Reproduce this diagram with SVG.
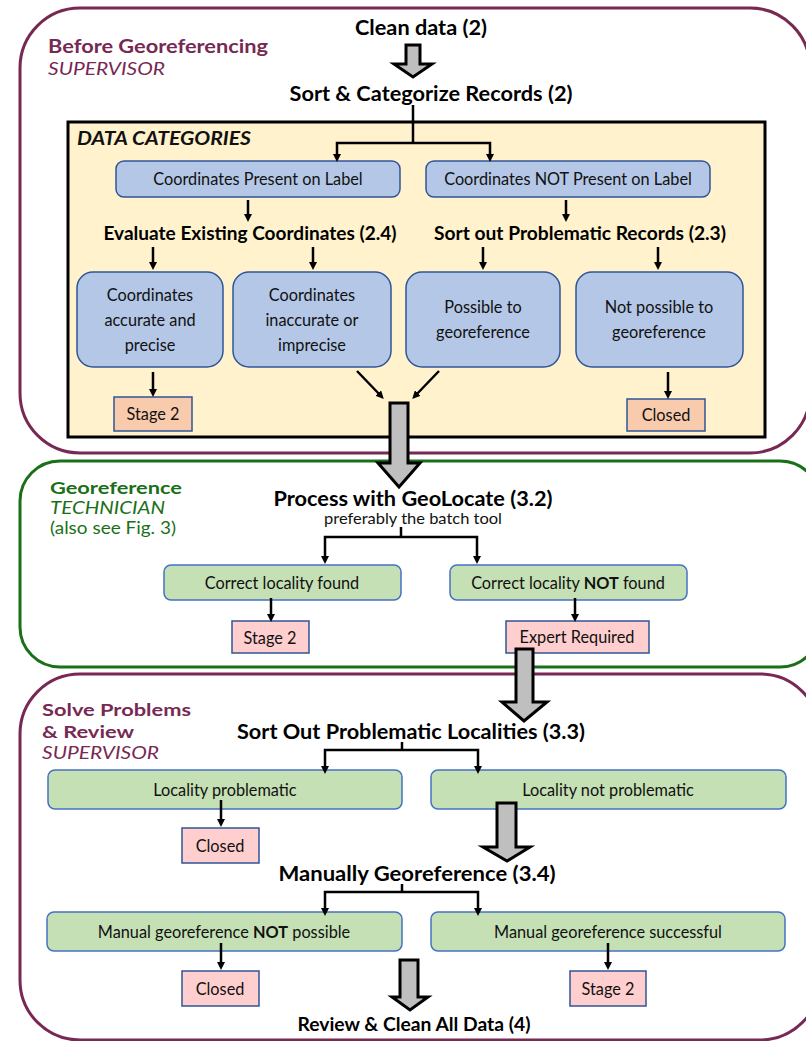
<svg xmlns="http://www.w3.org/2000/svg" width="806" height="1041" viewBox="0 0 806 1041">
<defs>
<marker id="ah" markerWidth="8" markerHeight="8" refX="4" refY="4" orient="auto" markerUnits="userSpaceOnUse" viewBox="0 0 8 8">
<path d="M0,0 L8,4 L0,8 Z" fill="#000"/>
</marker>
<style>
.panelM{fill:#fff;stroke:#772953;stroke-width:3}
.panelG{fill:#fff;stroke:#1a7018;stroke-width:3}
.t{font-family:Lato,"Open Sans",sans-serif;fill:#111}
.h{font-family:Lato,"Open Sans",sans-serif;font-weight:bold;fill:#000;text-anchor:middle}
.ml{font-family:Lato,"Open Sans",sans-serif;fill:#772953}
.gl{font-family:Lato,"Open Sans",sans-serif;fill:#1a7018}
.blue{fill:#b4c7e7;stroke:#2f5597;stroke-width:1.5}
.green{fill:#c5e0b4;stroke:#4472c4;stroke-width:1.5}
.peach{fill:#f8cbad;stroke:#2f5597;stroke-width:1.5}
.pink{fill:#ffcfcf;stroke:#2f5597;stroke-width:1.5}
.c{font-family:Lato,"Open Sans",sans-serif;font-size:16.3px;fill:#111;text-anchor:middle}
.ln{fill:none;stroke:#000;stroke-width:2.5}
.la{fill:none;stroke:#000;stroke-width:2.5;marker-end:url(#ah)}
.blk{fill:#bfbfbf;stroke:#000;stroke-width:3;stroke-linejoin:miter}
</style>
</defs>

<!-- panels -->
<g id="panel-before">
<rect class="panelM" x="20" y="8" width="790" height="445" rx="60"/>
<text class="ml" x="48" y="53" font-size="18" font-weight="bold" textLength="220" lengthAdjust="spacingAndGlyphs">Before Georeferencing</text>
<text class="ml" x="48" y="75" font-size="18" font-style="italic" textLength="117" lengthAdjust="spacingAndGlyphs">SUPERVISOR</text>
</g>
<g id="panel-georef">
<rect class="panelG" x="20" y="461" width="800" height="206" rx="40"/>
<text class="gl" x="50" y="494" font-size="17" font-weight="bold" textLength="132" lengthAdjust="spacingAndGlyphs">Georeference</text>
<text class="gl" x="50" y="514" font-size="17" font-style="italic" textLength="115" lengthAdjust="spacingAndGlyphs">TECHNICIAN</text>
<text class="gl" x="50" y="534" font-size="16.5" textLength="126" lengthAdjust="spacingAndGlyphs">(also see Fig. 3)</text>
</g>
<g id="panel-solve">
<rect class="panelM" x="20" y="674" width="800" height="366" rx="60"/>
<text class="ml" x="42" y="716" font-size="17.5" font-weight="bold" textLength="149" lengthAdjust="spacingAndGlyphs">Solve Problems</text>
<text class="ml" x="42" y="738" font-size="17.5" font-weight="bold" textLength="92" lengthAdjust="spacingAndGlyphs">&amp; Review</text>
<text class="ml" x="42" y="759" font-size="17.5" font-style="italic" textLength="117" lengthAdjust="spacingAndGlyphs">SUPERVISOR</text>
</g>

<g id="data-categories">
<rect x="68" y="122" width="697" height="315" fill="#fff2cc" stroke="#000" stroke-width="3"/>
<text class="t" x="77" y="145" font-size="19" font-weight="bold" font-style="italic" fill="#000" textLength="174" lengthAdjust="spacingAndGlyphs">DATA CATEGORIES</text>
</g>

<!-- headings -->
<g id="clean-data"><text class="h" x="421" y="35" font-size="20" textLength="132" lengthAdjust="spacingAndGlyphs">Clean data (2)</text></g>
<g id="sort-categorize"><text class="h" x="431" y="101" font-size="20" textLength="283" lengthAdjust="spacingAndGlyphs">Sort &amp; Categorize Records (2)</text></g>
<g id="evaluate"><text class="h" x="250" y="240" font-size="18" textLength="293" lengthAdjust="spacingAndGlyphs">Evaluate Existing Coordinates (2.4)</text></g>
<g id="sort-problematic"><text class="h" x="580" y="240" font-size="18" textLength="292" lengthAdjust="spacingAndGlyphs">Sort out Problematic Records (2.3)</text></g>
<g id="process-geolocate">
<text class="h" x="413" y="506" font-size="20" textLength="279" lengthAdjust="spacingAndGlyphs">Process with GeoLocate (3.2)</text>
<text class="c" x="413" y="524" style="font-size:15px" textLength="178" lengthAdjust="spacingAndGlyphs">preferably the batch tool</text>
</g>
<g id="sort-localities"><text class="h" x="411" y="739" font-size="20" textLength="348" lengthAdjust="spacingAndGlyphs">Sort Out Problematic Localities (3.3)</text></g>
<g id="manually"><text class="h" x="417" y="881" font-size="20" textLength="277" lengthAdjust="spacingAndGlyphs">Manually Georeference (3.4)</text></g>
<g id="review"><text class="h" x="414" y="1031" font-size="18" textLength="233" lengthAdjust="spacingAndGlyphs">Review &amp; Clean All Data (4)</text></g>

<!-- nodes -->
<g id="coords-present"><rect class="blue" x="116" y="161" width="284" height="36" rx="8"/><text class="c" x="258" y="185">Coordinates Present on Label</text></g>
<g id="coords-not-present"><rect class="blue" x="426" y="161" width="284" height="36" rx="8"/><text class="c" x="568" y="185">Coordinates NOT Present on Label</text></g>

<g id="accurate"><rect class="blue" x="77" y="272" width="146" height="95" rx="16"/>
<text class="c" x="150" y="301">Coordinates</text><text class="c" x="150" y="326">accurate and</text><text class="c" x="150" y="351">precise</text></g>
<g id="inaccurate"><rect class="blue" x="233" y="272" width="158" height="95" rx="16"/>
<text class="c" x="312" y="301">Coordinates</text><text class="c" x="312" y="326">inaccurate or</text><text class="c" x="312" y="351">imprecise</text></g>
<g id="possible"><rect class="blue" x="406" y="272" width="154" height="95" rx="16"/>
<text class="c" x="483" y="313">Possible to</text><text class="c" x="483" y="338">georeference</text></g>
<g id="not-possible"><rect class="blue" x="576" y="272" width="167" height="95" rx="16"/>
<text class="c" x="659" y="313">Not possible to</text><text class="c" x="659" y="338">georeference</text></g>

<g id="stage2-a"><rect class="peach" x="114" y="397" width="78" height="34"/><text class="c" x="153" y="420">Stage 2</text></g>
<g id="closed-a"><rect class="peach" x="627" y="399" width="78" height="32"/><text class="c" x="666" y="421">Closed</text></g>

<g id="found"><rect class="green" x="164" y="565" width="237" height="35" rx="7"/><text class="c" x="282" y="589">Correct locality found</text></g>
<g id="not-found"><rect class="green" x="450" y="565" width="237" height="35" rx="7"/><text class="c" x="568" y="589">Correct locality <tspan font-weight="bold">NOT</tspan> found</text></g>
<g id="stage2-b"><rect class="pink" x="232" y="621" width="77" height="32"/><text class="c" x="270" y="644">Stage 2</text></g>
<g id="expert"><rect class="pink" x="506" y="621" width="143" height="32"/><text class="c" x="577" y="643">Expert Required</text></g>

<g id="loc-problematic"><rect class="green" x="48" y="770" width="354" height="39" rx="7"/><text class="c" x="225" y="796">Locality problematic</text></g>
<g id="loc-not-problematic"><rect class="green" x="431" y="770" width="355" height="39" rx="7"/><text class="c" x="608" y="796">Locality not problematic</text></g>
<g id="closed-b"><rect class="pink" x="182" y="828" width="77" height="35"/><text class="c" x="220" y="852">Closed</text></g>

<g id="manual-not"><rect class="green" x="47" y="912" width="355" height="39" rx="7"/><text class="c" x="224" y="938">Manual georeference <tspan font-weight="bold">NOT</tspan> possible</text></g>
<g id="manual-ok"><rect class="green" x="431" y="912" width="354" height="39" rx="7"/><text class="c" x="608" y="938">Manual georeference successful</text></g>
<g id="closed-c"><rect class="pink" x="182" y="971" width="77" height="35"/><text class="c" x="220" y="995">Closed</text></g>
<g id="stage2-c"><rect class="pink" x="570" y="971" width="76" height="35"/><text class="c" x="608" y="995">Stage 2</text></g>

<!-- connectors -->
<g id="connectors">
<path class="blk" d="M406,45 V64 H394 L413,77 L432,64 H420 V45 Z"/>
<path class="ln" d="M413,105 V143"/>
<path class="la" d="M413,143 H337 V158"/>
<path class="la" d="M413,143 H490 V158"/>
<path class="la" d="M248,200 V218"/>
<path class="la" d="M566,200 V218"/>
<path class="la" d="M153,247 V266"/>
<path class="la" d="M313,247 V266"/>
<path class="la" d="M483,247 V266"/>
<path class="la" d="M658,247 V266"/>
<path class="la" d="M153,372 V393"/>
<path class="la" d="M668,372 V395"/>
<path class="la" d="M357,371 L381,396"/>
<path class="la" d="M439,371 L415,396"/>
<path class="blk" d="M390,403 V463 H378 L399,487 L420,463 H408 V403 Z"/>
<path class="ln" d="M401,527 V537"/>
<path class="la" d="M401,537 H325 V560"/>
<path class="la" d="M401,537 H477 V560"/>
<path class="la" d="M271,598 V618"/>
<path class="la" d="M575,598 V618"/>
<path class="blk" d="M516,649 V702 H502 L524,721 L547,702 H533 V649 Z"/>
<path class="ln" d="M402,742 V750"/>
<path class="la" d="M402,750 H325 V770"/>
<path class="la" d="M402,750 H478 V770"/>
<path class="la" d="M221,800 V823"/>
<path class="blk" d="M497,803 V847 H483 L507,861 L530,847 H516 V803 Z"/>
<path class="ln" d="M402,884 V892"/>
<path class="la" d="M402,892 H325 V912"/>
<path class="la" d="M402,892 H478 V912"/>
<path class="la" d="M221,943 V966"/>
<path class="la" d="M608,943 V966"/>
<path class="blk" d="M400,960 V997 H392 L410,1010 L428,997 H418 V960 Z"/>
</g>
</svg>
